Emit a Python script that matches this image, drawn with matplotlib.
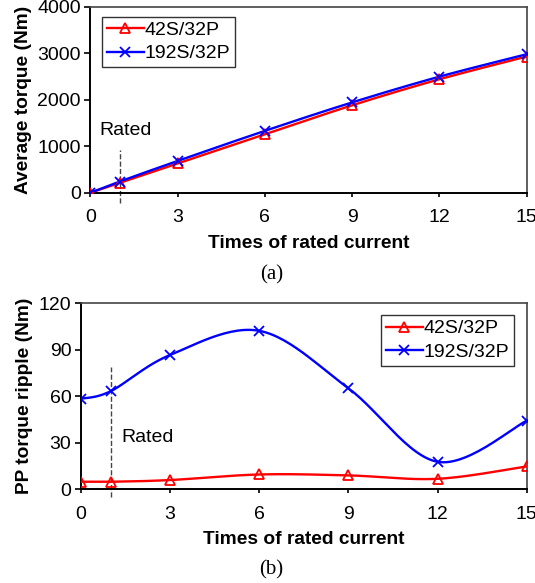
import numpy as np
import matplotlib
matplotlib.use("Agg")
import matplotlib.pyplot as plt

plt.rcParams['font.family'] = ['Liberation Sans', 'DejaVu Sans']

# times of rated current
current = [0, 1, 3, 6, 9, 12, 15]

# average torque (Nm)
torque_42s = [0, 210, 630, 1255, 1880, 2440, 2928]
torque_192s = [0, 238, 683, 1330, 1942, 2496, 2978]

# peak-to-peak torque ripple (Nm)
ripple_42s = [4.7, 4.7, 5.8, 9.4, 8.8, 6.6, 14.6]
ripple_192s = [58.3, 63.2, 86.6, 102.2, 65.1, 17.6, 44.1]

RED = '#ff0000'
BLUE = '#0000ff'
FS = 14


def smooth(x, y, n=30):
    """Excel-style smoothed line: Catmull-Rom Bezier through the points."""
    p = np.column_stack([x, y]).astype(float)
    p = np.vstack([p[0], p, p[-1]])
    out = []
    t = np.linspace(0, 1, n)[:, None]
    for i in range(1, len(p) - 2):
        p0, p1, p2, p3 = p[i - 1], p[i], p[i + 1], p[i + 2]
        b1 = p1 + (p2 - p0) / 6
        b2 = p2 - (p3 - p1) / 6
        seg = ((1 - t) ** 3 * p1 + 3 * (1 - t) ** 2 * t * b1
               + 3 * (1 - t) * t ** 2 * b2 + t ** 3 * p2)
        out.append(seg if i == 1 else seg[1:])
    seg = np.vstack(out)
    return seg[:, 0], seg[:, 1]


def draw_series(ax, y, color, marker, ms, label):
    sx, sy = smooth(current, y)
    ax.plot(sx, sy, color=color, lw=1.7, zorder=3)
    ax.plot(current, y, ls='none', marker=marker, ms=ms, mfc='none',
            mec=color, mew=1.3, color=color, zorder=4)
    # proxy for the legend entry
    ax.plot([], [], color=color, lw=1.7, marker=marker, ms=ms, mfc='none',
            mec=color, mew=1.3, label=label)


def style_axes(ax, ylabel):
    for side in ('left', 'bottom'):
        ax.spines[side].set_color('black')
        ax.spines[side].set_linewidth(1.4)
    for side in ('top', 'right'):
        ax.spines[side].set_color('#444444')
        ax.spines[side].set_linewidth(1.2)
    ax.set_xlim(0, 15)
    ax.set_xticks([0, 3, 6, 9, 12, 15])
    ax.tick_params(axis='y', direction='out', length=4, width=1.2,
                   labelsize=FS, pad=3)
    ax.tick_params(axis='x', direction='out', length=3, width=1.2,
                   labelsize=FS, pad=9)
    ax.set_xlabel('Times of rated current', fontsize=13.8, fontweight='bold',
                  labelpad=6)
    ax.set_ylabel(ylabel, fontsize=13.8, fontweight='bold', labelpad=4)


fig = plt.figure(figsize=(5.35, 5.83), dpi=100)

# (a) average torque
ax1 = fig.add_axes([0.169, 0.6695, 0.8155, 0.319])
draw_series(ax1, torque_42s, RED, '^', 7, '42S/32P')
draw_series(ax1, torque_192s, BLUE, 'x', 7, '192S/32P')
ax1.set_ylim(0, 4000)
ax1.set_yticks([0, 1000, 2000, 3000, 4000])
style_axes(ax1, 'Average torque (Nm)')
ax1.plot([1, 1], [-230, 920], ls='--', color='#444444', lw=1.0,
         clip_on=False, zorder=2)
ax1.text(0.3, 1330, 'Rated', fontsize=FS, ha='left', va='center')
leg1 = ax1.legend(loc='upper left', bbox_to_anchor=(0.026, 0.947),
                  fontsize=FS, frameon=True, fancybox=False,
                  handlelength=1.9, handletextpad=0.05, borderpad=0.25,
                  labelspacing=0.3, borderaxespad=0)
leg1.get_frame().set_edgecolor('black')
leg1.get_frame().set_linewidth(1.0)
fig.text(0.507, 0.528, '(a)', fontsize=15, family='Liberation Serif',
         ha='center', va='center')

# (b) peak-to-peak torque ripple
ax2 = fig.add_axes([0.1514, 0.1612, 0.833, 0.3186])
draw_series(ax2, ripple_42s, RED, '^', 7, '42S/32P')
draw_series(ax2, ripple_192s, BLUE, 'x', 7, '192S/32P')
ax2.set_ylim(0, 120)
ax2.set_yticks([0, 30, 60, 90, 120])
style_axes(ax2, 'PP torque ripple (Nm)')
ax2.plot([1, 1], [-5, 79], ls='--', color='#444444', lw=1.0,
         clip_on=False, zorder=2)
ax2.text(1.35, 33.5, 'Rated', fontsize=FS, ha='left', va='center')
leg2 = ax2.legend(loc='upper right', bbox_to_anchor=(0.972, 0.937),
                  fontsize=FS, frameon=True, fancybox=False,
                  handlelength=1.9, handletextpad=0.05, borderpad=0.25,
                  labelspacing=0.3, borderaxespad=0)
leg2.get_frame().set_edgecolor('black')
leg2.get_frame().set_linewidth(1.0)
fig.text(0.507, 0.023, '(b)', fontsize=15, family='Liberation Serif',
         ha='center', va='center')

fig.savefig('out.png', dpi=100)
